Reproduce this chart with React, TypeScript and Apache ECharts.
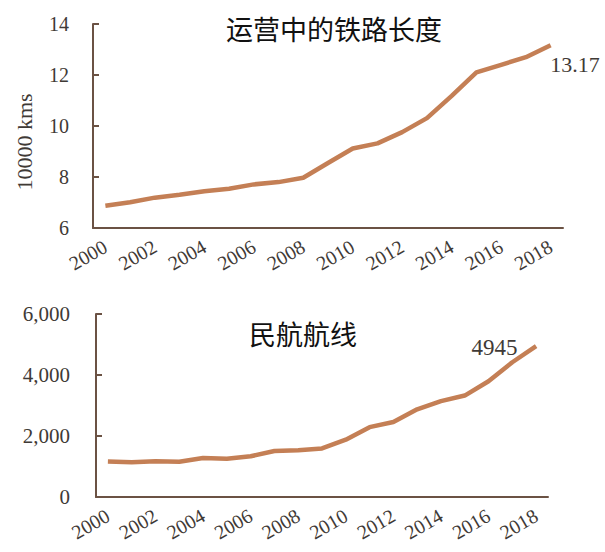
import React, { useEffect, useRef } from "react";
import * as echarts from "echarts";

const years = ["2000","2001","2002","2003","2004","2005","2006","2007","2008","2009","2010","2011","2012","2013","2014","2015","2016","2017","2018"];
const railwayKm = [6.87, 7.01, 7.19, 7.30, 7.44, 7.54, 7.71, 7.80, 7.97, 8.55, 9.12, 9.32, 9.76, 10.31, 11.18, 12.10, 12.40, 12.70, 13.17];
const airRoutes = [1165, 1143, 1176, 1155, 1279, 1257, 1336, 1506, 1532, 1592, 1880, 2290, 2457, 2876, 3142, 3326, 3794, 4418, 4945];
const railTitle = "运营中的铁路长度";
const airTitle = "民航航线";
const railUnit = "10000 kms";

const LINE = "#c47f55";
const AXIS = "#6b5244";
const TXT = "#3f3a36";
const SERIF = "'Liberation Serif', 'Times New Roman', serif";

export default function App() {
  const ref = useRef<HTMLDivElement>(null);
  useEffect(() => {
    const chart = echarts.init(ref.current!, null, { renderer: "svg" });
    const xAxisBase = (gridIndex: number) => ({
      type: "category" as const,
      gridIndex,
      data: years,
      boundaryGap: true,
      axisLine: { show: true, lineStyle: { color: AXIS, width: 2 } },
      axisTick: { show: false },
      axisLabel: {
        interval: 1,
        rotate: 30,
        margin: 17,
        fontFamily: SERIF,
        fontSize: 20,
        color: TXT,
      },
    });
    const yAxisBase = (gridIndex: number) => ({
      type: "value" as const,
      gridIndex,
      axisLine: { show: true, lineStyle: { color: AXIS, width: 2 } },
      axisTick: { show: true, inside: true, length: 6, lineStyle: { color: AXIS, width: 2 } },
      splitLine: { show: false },
      axisLabel: { fontFamily: SERIF, fontSize: 20, color: TXT, margin: 24 },
    });
    const lastIdx = years.length - 1;
    const hiddenSymbol = {
      symbol: "circle",
      symbolSize: 1,
      showSymbol: true,
      itemStyle: { color: "rgba(0,0,0,0)", borderWidth: 0 },
    };
    chart.setOption({
      animation: false,
      title: [
        {
          text: railTitle,
          left: 329,
          top: 10,
          textAlign: "center",
          textStyle: { fontFamily: "Noto Sans CJK SC", fontWeight: "normal", fontSize: 27, color: "#111" },
        },
        {
          text: airTitle,
          left: 298,
          top: 315,
          textAlign: "center",
          textStyle: { fontFamily: "Noto Sans CJK SC", fontWeight: "normal", fontSize: 27, color: "#111" },
        },
      ],
      grid: [
        { left: 93, right: 42, top: 24, height: 204 },
        { left: 96, right: 57, top: 314, height: 183 },
      ],
      xAxis: [xAxisBase(0), xAxisBase(1)],
      yAxis: [
        {
          ...yAxisBase(0),
          min: 6,
          max: 14,
          interval: 2,
          name: railUnit,
          nameLocation: "middle",
          nameRotate: 90,
          nameGap: 58,
          nameTextStyle: { fontFamily: SERIF, fontSize: 22, color: TXT, padding: [0, 32, 0, 0] },
        },
        {
          ...yAxisBase(1),
          min: 0,
          max: 6000,
          interval: 2000,
          axisLabel: {
            fontFamily: SERIF,
            fontSize: 21,
            color: TXT,
            margin: 26,
            formatter: (v: number) => v.toLocaleString("en-US"),
          },
        },
      ],
      series: [
        {
          type: "line",
          xAxisIndex: 0,
          yAxisIndex: 0,
          ...hiddenSymbol,
          lineStyle: { color: LINE, width: 4.5 },
          data: railwayKm.map((v, i) =>
            i === lastIdx
              ? {
                  value: v,
                  label: {
                    show: true,
                    position: "right",
                    distance: 5,
                    offset: [-6, 19],
                    fontFamily: SERIF,
                    fontSize: 22,
                    color: TXT,
                    formatter: (p: any) => Number(p.value).toFixed(2),
                  },
                }
              : v
          ),
        },
        {
          type: "line",
          xAxisIndex: 1,
          yAxisIndex: 1,
          ...hiddenSymbol,
          lineStyle: { color: LINE, width: 4.5 },
          data: airRoutes.map((v, i) =>
            i === lastIdx
              ? {
                  value: v,
                  label: {
                    show: true,
                    position: "left",
                    distance: 5,
                    offset: [-13, 1],
                    fontFamily: SERIF,
                    fontSize: 23,
                    color: TXT,
                    formatter: (p: any) => String(p.value),
                  },
                }
              : v
          ),
        },
      ],
    });
    return () => chart.dispose();
  }, []);
  return (
    <div
      ref={ref}
      style={{ position: "fixed", left: 0, top: 0, width: 605, height: 552, background: "#fff" }}
    />
  );
}
